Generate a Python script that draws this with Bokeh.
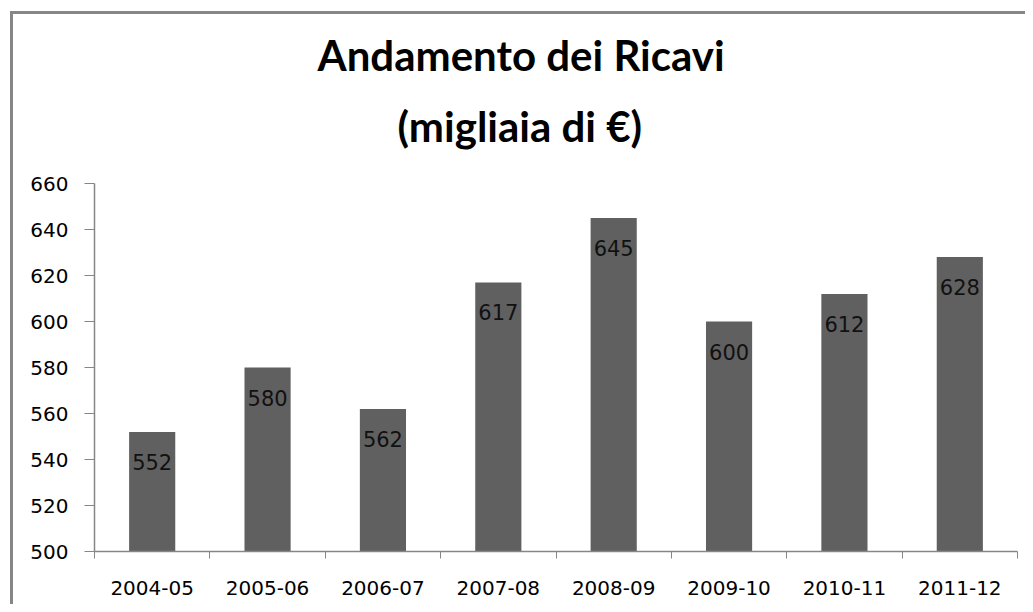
from bokeh.plotting import figure
from bokeh.models import Title, FixedTicker, Range1d, ColumnDataSource
from bokeh.core.properties import value
from bokeh.embed import file_html
from bokeh.resources import INLINE

categories = ["2004-05", "2005-06", "2006-07", "2007-08", "2008-09", "2009-10", "2010-11", "2011-12"]
ricavi = [552, 580, 562, 617, 645, 600, 612, 628]
y_ticks = [500, 520, 540, 560, 580, 600, 620, 640, 660]

xpos = [i + 0.5 for i in range(len(categories))]
source = ColumnDataSource(dict(x=xpos, top=ricavi, label=[str(v) for v in ricavi]))

p = figure(output_backend="svg", toolbar_location=None,
           frame_width=923, frame_height=368,
           min_border_left=81, min_border_right=8, min_border_bottom=53, min_border_top=169,
           x_range=Range1d(0, len(categories)), y_range=Range1d(500, 660),
           margin=(11, 0, 0, 10),
           styles={"border-left": "3px solid #868686", "border-top": "3px solid #868686"})

p.add_layout(Title(text="(migliaia di €)", align="left", text_font="Lato",
                   text_font_size="42px", text_font_style="bold", text_color="#000000",
                   standoff=65, offset=303), "above")
p.add_layout(Title(text="Andamento dei Ricavi", align="left", text_font="Lato",
                   text_font_size="42px", text_font_style="bold", text_color="#000000",
                   standoff=-27, offset=223), "above")

p.vbar(x="x", top="top", bottom=500, width=0.4, source=source,
       fill_color="#606060", line_color=None)
p.text(x="x", y="top", text="label", source=source, y_offset=30,
       text_align="center", text_baseline="middle",
       text_font=value("DejaVu Sans"), text_font_size="21px", text_color="#111111")

p.xgrid.grid_line_color = None
p.ygrid.grid_line_color = None
p.outline_line_color = None
p.background_fill_color = "white"
p.border_fill_color = "white"

xa = p.xaxis[0]
xa.ticker = FixedTicker(ticks=xpos, minor_ticks=list(range(len(categories) + 1)))
xa.major_label_overrides = {x: c for x, c in zip(xpos, categories)}
xa.major_tick_line_color = None
xa.major_tick_out = 0
xa.major_tick_in = 0
xa.minor_tick_line_color = "#868686"
xa.minor_tick_out = 7
xa.minor_tick_in = 0
xa.axis_line_color = "#868686"
xa.axis_line_width = 1.5
xa.major_label_standoff = 22
xa.major_label_text_font = "DejaVu Sans"
xa.major_label_text_font_size = "20px"
xa.major_label_text_color = "#000000"

ya = p.yaxis[0]
ya.ticker = FixedTicker(ticks=y_ticks)
ya.minor_tick_line_color = None
ya.major_tick_line_color = "#868686"
ya.major_tick_out = 10
ya.major_tick_in = 0
ya.axis_line_color = "#868686"
ya.axis_line_width = 1.5
ya.major_label_standoff = 16
ya.major_label_text_font = "DejaVu Sans"
ya.major_label_text_font_size = "20px"
ya.major_label_text_color = "#000000"

open("out.html", "w").write(file_html(p, INLINE))
